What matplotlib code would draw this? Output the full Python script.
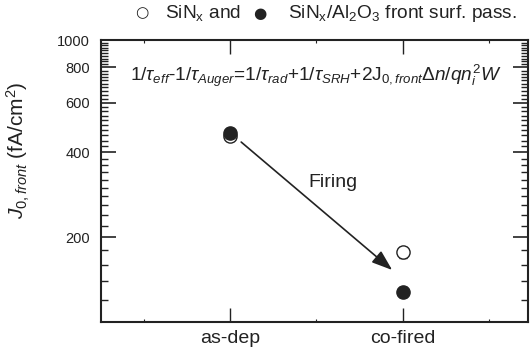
import matplotlib
matplotlib.use("Agg")
import matplotlib.pyplot as plt
from matplotlib.ticker import FixedLocator, NullFormatter, FixedFormatter

plt.rcParams['font.family'] = ['Liberation Sans', 'DejaVu Sans']
plt.rcParams['mathtext.fontset'] = 'custom'
plt.rcParams['mathtext.rm'] = 'Liberation Sans'
plt.rcParams['mathtext.it'] = 'Liberation Sans:italic'
plt.rcParams['mathtext.bf'] = 'Liberation Sans:bold'

categories = ['as-dep', 'co-fired']
x_pos = [1, 2]
sinx_open = [457, 177]
sinx_open_err = [12, 8]
sinx_al2o3_filled = [468, 128]
sinx_al2o3_err = [10, 5]
y_major = [200, 400, 600, 800, 1000]
y_labels = ['200', '400', '600', '800', '1000']

fig = plt.figure(figsize=(5.31, 3.52), dpi=100)
ax = fig.add_axes([0.190, 0.085, 0.805, 0.801])
ax.set_yscale('log')
ax.set_xlim(0.25, 2.73)
ax.set_ylim(100, 1000)

col = '#222222'
ax.errorbar(x_pos, sinx_open, yerr=sinx_open_err, fmt='o', mfc='white', mec=col,
            mew=1.0, ms=9.5, ecolor=col, elinewidth=0.8, capsize=3, zorder=3)
ax.errorbar(x_pos, sinx_al2o3_filled, yerr=sinx_al2o3_err, fmt='o', mfc=col, mec=col,
            ms=9.5, ecolor=col, elinewidth=0.8, capsize=3, zorder=4)

ax.annotate('', xy=(1.94, 153), xytext=(1.064, 435),
            arrowprops=dict(arrowstyle='-|>,head_length=0.7,head_width=0.25', color=col,
                            lw=1.2, mutation_scale=18, shrinkA=0, shrinkB=0))
ax.text(1.597, 313, 'Firing', fontsize=14, ha='center', va='center', color=col)

ax.text(0.42, 745,
        r'$1/\tau_{eff}$-$1/\tau_{Auger}$=$1/\tau_{rad}$+$1/\tau_{SRH}$+2J$_{0,front}\Delta n/qn_i^2W$',
        fontsize=13.7, ha='left', va='center', color=col)

ax.yaxis.set_major_locator(FixedLocator(y_major))
ax.yaxis.set_major_formatter(FixedFormatter(y_labels))
minor = [v for v in range(120, 1000, 20) if v not in y_major]
ax.yaxis.set_minor_locator(FixedLocator(minor))
ax.yaxis.set_minor_formatter(NullFormatter())
ax.set_xticks(x_pos)
ax.set_xticklabels(categories, fontsize=14)
ax.set_xticks([0.5, 1.5, 2.5], minor=True)
ax.tick_params(axis='y', which='major', direction='in', length=11, width=1.2,
               right=True, labelsize=10.5, colors=col, pad=8)
ax.tick_params(axis='y', which='minor', direction='in', length=5, width=1.0, right=True, colors=col)
ax.tick_params(axis='x', which='major', direction='in', length=10, width=1.0, top=True,
               colors=col, pad=6)
ax.tick_params(axis='x', which='minor', direction='in', length=2, width=0.8, top=True, colors=col)
for s in ax.spines.values():
    s.set_linewidth(1.5)
    s.set_color(col)

ax.set_ylabel(r'$J_{0,front}$ (fA/cm$^2$)', fontsize=15, color=col)
ax.yaxis.set_label_coords(-0.16, 0.61)

hy = 0.963
fig.text(0.267, hy, '○', fontsize=11, ha='center', va='center', color=col,
         family=['DejaVu Sans'])
fig.text(0.311, hy, r'SiN$_\mathrm{x}$ and', fontsize=13.8, ha='left', va='center', color=col)
fig.text(0.490, hy, '●', fontsize=11, ha='center', va='center', color=col,
         family=['DejaVu Sans'])
fig.text(0.542, hy, r'SiN$_\mathrm{x}$/Al$_\mathrm{2}$O$_\mathrm{3}$ front surf. pass.',
         fontsize=13.8, ha='left', va='center', color=col)

fig.savefig('out.png', dpi=100)
